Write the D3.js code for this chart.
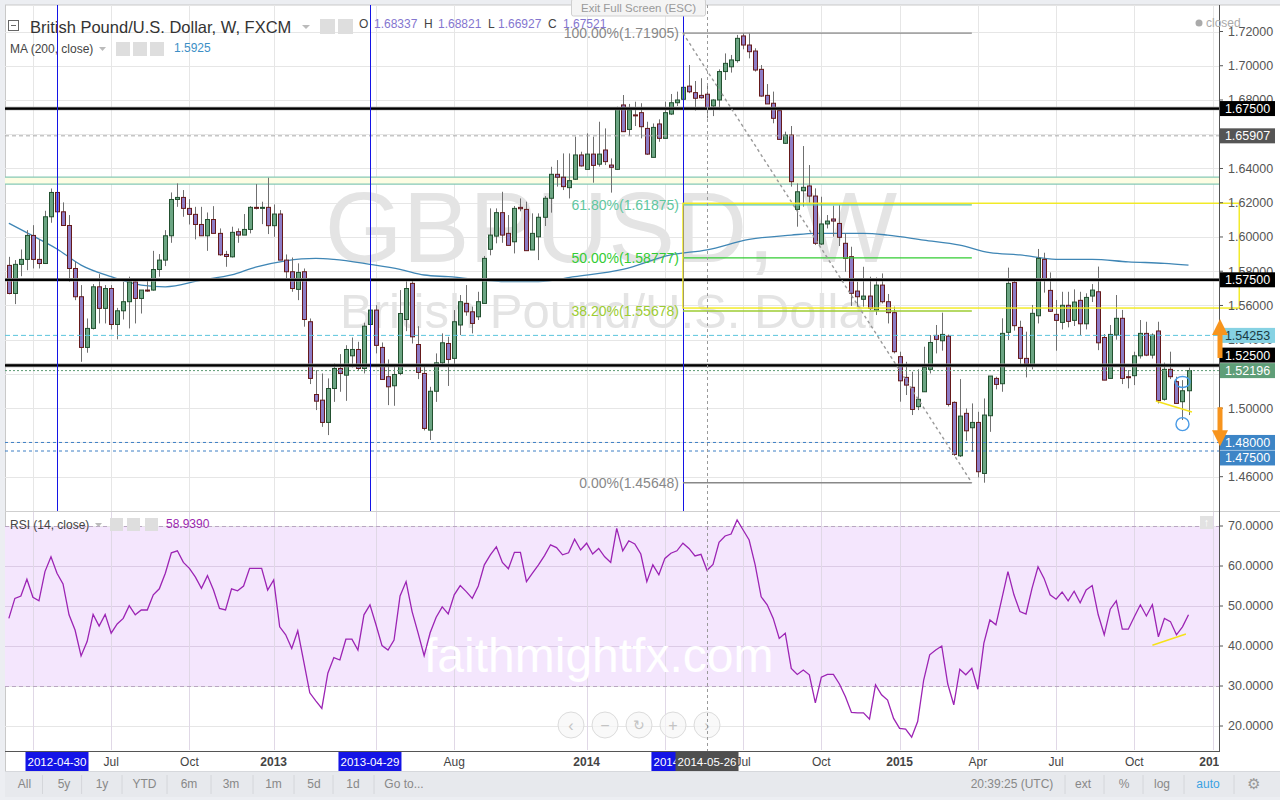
<!DOCTYPE html>
<html><head><meta charset="utf-8">
<script src="https://cdn.jsdelivr.net/npm/d3@7"></script>
<style>
html,body{margin:0;padding:0;background:#eceef2;overflow:hidden;}
svg{display:block;font-family:"Liberation Sans",Arial,sans-serif;}
</style></head><body>
<svg id="c" width="1280" height="800"></svg>
<script>
// ---------------- DATA ----------------
const firstWeek = "2012-03-05";
const lastWeek  = "2015-12-07";
const open = [1.5834,1.5670,1.5840,1.5869,1.6009,1.5869,1.5845,1.6118,1.6260,1.6147,
1.6067,1.5816,1.5651,1.5355,1.5466,1.5709,1.5583,1.5699,1.5489,1.5569,
1.5622,1.5738,1.5641,1.5690,1.5690,1.5810,1.5865,1.6007,1.6219,1.6231,
1.6167,1.6132,1.6073,1.6007,1.6102,1.6021,1.5898,1.5884,1.6031,1.6011,
1.6044,1.6173,1.6169,1.6173,1.6066,1.6134,1.5865,1.5797,1.5694,1.5797,
1.5505,1.5080,1.5047,1.4917,1.5115,1.5232,1.5193,1.5306,1.5343,1.5232,
1.5489,1.5573,1.5355,1.5184,1.5131,1.5203,1.5518,1.5729,1.5372,1.5203,
1.4872,1.5099,1.5265,1.5378,1.5291,1.5486,1.5612,1.5563,1.5534,1.5612,
1.5928,1.6005,1.6142,1.6021,1.5972,1.6173,1.6161,1.5924,1.6001,1.6115,
1.6226,1.6366,1.6349,1.6288,1.6337,1.6479,1.6395,1.6484,1.6425,1.6508,
1.6420,1.6395,1.6771,1.6628,1.6713,1.6726,1.6634,1.6465,1.6660,1.6576,
1.6718,1.6784,1.6804,1.6881,1.6843,1.6827,1.68337,1.6765,1.6800,1.6966,
1.6994,1.7030,1.7174,1.7121,1.7086,1.6979,1.6827,1.6781,1.6738,1.6547,
1.6595,1.6161,1.6270,1.6298,1.6239,1.5959,1.6076,1.6105,1.6079,1.5963,
1.5885,1.5684,1.5636,1.5655,1.5573,1.5719,1.5622,1.5558,1.5301,1.5180,
1.5122,1.5009,1.5096,1.5227,1.5425,1.5394,1.5421,1.5034,1.4722,1.4970,
1.4886,1.4917,1.4619,1.4956,1.5174,1.5143,1.5443,1.5735,1.5472,1.5291,
1.5256,1.5540,1.5869,1.5688,1.5548,1.5501,1.5601,1.5513,1.5630,1.5493,
1.5655,1.5680,1.5413,1.5174,1.5427,1.5525,1.5184,1.5190,1.5306,1.5437,
1.5310,1.5451,1.5052,1.5227,1.5155,1.5038,1.5102];
const high = [1.5884,1.5865,1.5927,1.6040,1.6069,1.5986,1.6153,1.6283,1.6293,1.6202,
1.6128,1.5855,1.5719,1.5524,1.5725,1.5783,1.5719,1.5719,1.5586,1.5738,
1.5768,1.5748,1.5690,1.5752,1.5919,1.5900,1.6040,1.6260,1.6313,1.6274,
1.6221,1.6176,1.6176,1.6143,1.6180,1.6050,1.5919,1.6060,1.6050,1.6134,
1.6180,1.6309,1.6206,1.6346,1.6190,1.6157,1.5898,1.5880,1.5846,1.5816,
1.5524,1.5222,1.5203,1.5174,1.5261,1.5316,1.5368,1.5413,1.5388,1.5499,
1.5602,1.5602,1.5384,1.5285,1.5252,1.5690,1.5742,1.5748,1.5479,1.5242,
1.5125,1.5320,1.5437,1.5417,1.5573,1.5661,1.5719,1.5593,1.5680,1.5889,
1.6167,1.6167,1.6264,1.6128,1.6181,1.6225,1.6206,1.6138,1.6138,1.6239,
1.6410,1.6449,1.6488,1.6488,1.6586,1.6498,1.6605,1.6586,1.6673,1.6634,
1.6459,1.6761,1.6829,1.6777,1.6790,1.6781,1.6673,1.6663,1.6687,1.6790,
1.6835,1.6849,1.6921,1.7004,1.6911,1.6927,1.68821,1.6804,1.6979,1.7072,
1.7063,1.7180,1.7190,1.7190,1.7102,1.7004,1.6893,1.6849,1.6745,1.6615,
1.6648,1.6313,1.6531,1.6420,1.6284,1.6235,1.6128,1.6183,1.6186,1.6021,
1.5943,1.5739,1.5826,1.5768,1.5764,1.5787,1.5667,1.5593,1.5330,1.5271,
1.5213,1.5227,1.5359,1.5427,1.5486,1.5558,1.5430,1.5040,1.5170,1.4999,
1.5028,1.4979,1.5057,1.5188,1.5184,1.5525,1.5821,1.5749,1.5511,1.5447,
1.5603,1.5930,1.5908,1.5793,1.5632,1.5680,1.5680,1.5694,1.5680,1.5671,
1.5725,1.5827,1.5433,1.5486,1.5661,1.5574,1.5223,1.5330,1.5515,1.5505,
1.5437,1.5505,1.5266,1.5330,1.5184,1.5164,1.5238];
const low = [1.5665,1.5608,1.5771,1.5806,1.5816,1.5816,1.5842,1.6083,1.6130,1.6067,
1.5738,1.5631,1.5271,1.5324,1.5460,1.5495,1.5495,1.5460,1.5402,1.5518,
1.5466,1.5495,1.5553,1.5680,1.5686,1.5768,1.5830,1.5966,1.6176,1.6118,
1.6073,1.5986,1.6007,1.5919,1.6021,1.5890,1.5826,1.5880,1.5966,1.6011,
1.6021,1.6161,1.6075,1.6017,1.6001,1.5865,1.5758,1.5680,1.5631,1.5476,
1.5141,1.4989,1.4891,1.4843,1.5037,1.5096,1.5043,1.5238,1.5222,1.5203,
1.5480,1.5320,1.5168,1.5018,1.5014,1.5193,1.5450,1.5378,1.5170,1.4870,
1.4814,1.5037,1.5242,1.5130,1.5242,1.5427,1.5540,1.5437,1.5515,1.5612,
1.5893,1.5963,1.5966,1.5951,1.5904,1.6150,1.5920,1.5924,1.5865,1.6064,
1.6142,1.6294,1.6274,1.6225,1.6333,1.6411,1.6395,1.6317,1.6411,1.6420,
1.6259,1.6391,1.6615,1.6589,1.6648,1.6576,1.6479,1.6465,1.6556,1.6576,
1.6712,1.6765,1.6757,1.6840,1.6738,1.6808,1.66927,1.6706,1.6741,1.6917,
1.6960,1.7018,1.7096,1.7043,1.6966,1.6819,1.6777,1.6664,1.6570,1.6543,
1.6294,1.6060,1.6177,1.6200,1.5953,1.5953,1.6050,1.6002,1.5947,1.5797,
1.5597,1.5593,1.5593,1.5573,1.5544,1.5612,1.5495,1.5320,1.5038,1.5077,
1.4960,1.4989,1.5096,1.5203,1.5320,1.5336,1.5010,1.4722,1.4715,1.4810,
1.4746,1.4596,1.4565,1.4862,1.5110,1.5096,1.5398,1.5453,1.5242,1.5180,
1.5227,1.5495,1.5675,1.5562,1.5336,1.5460,1.5472,1.5480,1.5427,1.5460,
1.5620,1.5339,1.5164,1.5174,1.5400,1.5141,1.5116,1.5135,1.5290,1.5304,
1.5290,1.5028,1.5044,1.5170,1.5028,1.4931,1.4960];
const close = [1.5670,1.5840,1.5869,1.6009,1.5869,1.5845,1.6118,1.6260,1.6147,1.6067,
1.5816,1.5651,1.5355,1.5466,1.5709,1.5583,1.5699,1.5489,1.5569,1.5622,
1.5738,1.5641,1.5690,1.5688,1.5810,1.5865,1.6007,1.6219,1.6231,1.6167,
1.6132,1.6073,1.6007,1.6102,1.6021,1.5896,1.5886,1.6027,1.6011,1.6044,
1.6173,1.6169,1.6173,1.6066,1.6134,1.5865,1.5797,1.5699,1.5793,1.5518,
1.5174,1.5041,1.4917,1.5115,1.5232,1.5203,1.5343,1.5343,1.5232,1.5479,
1.5573,1.5367,1.5168,1.5125,1.5197,1.5553,1.5699,1.5417,1.5209,1.4882,
1.5099,1.5265,1.5382,1.5285,1.5505,1.5622,1.5563,1.5495,1.5622,1.5875,
1.6011,1.6142,1.6011,1.5951,1.6167,1.6165,1.5920,1.6021,1.6115,1.6226,
1.6366,1.6349,1.6294,1.6329,1.6479,1.6415,1.6484,1.6418,1.6484,1.6440,
1.6407,1.6745,1.6615,1.6742,1.6710,1.6644,1.6484,1.6640,1.6576,1.6726,
1.6784,1.6800,1.6874,1.6848,1.6810,1.6813,1.67521,1.6800,1.6966,1.7014,
1.7034,1.7160,1.7121,1.7082,1.6975,1.6823,1.6777,1.6693,1.6570,1.6595,
1.6323,1.6264,1.6290,1.6239,1.5963,1.6076,1.6093,1.6093,1.5998,1.5875,
1.5671,1.5651,1.5655,1.5583,1.5719,1.5622,1.5558,1.5330,1.5160,1.5135,
1.4993,1.5052,1.5238,1.5384,1.5402,1.5431,1.5022,1.4730,1.4954,1.4868,
1.4917,1.4629,1.4960,1.5188,1.5139,1.5437,1.5729,1.5482,1.5291,1.5258,
1.5554,1.5875,1.5747,1.5566,1.5513,1.5601,1.5507,1.5620,1.5493,1.5647,
1.5690,1.5382,1.5164,1.5431,1.5525,1.5174,1.5178,1.5306,1.5437,1.5310,
1.5427,1.5044,1.5227,1.5184,1.5028,1.5102,1.52196];
const rsi = [46.9,51.9,52.5,56.7,52.2,51.3,58.6,62.3,58.2,55.5,
47.8,44.0,37.5,41.1,47.9,45.0,47.9,43.2,45.5,46.9,
50.1,47.8,49.0,49.0,52.8,54.3,58.2,63.3,63.8,60.9,
59.4,57.2,54.4,57.6,54.0,49.4,49.0,54.3,53.8,55.0,
59.4,59.4,59.4,54.0,56.5,44.8,42.8,39.4,43.8,36.1,
28.3,26.3,24.4,33.2,37.1,36.5,41.7,41.7,39.0,47.8,
50.3,45.3,40.1,39.0,41.5,52.5,56.1,48.6,43.2,37.6,
43.3,47.2,49.8,48.0,52.8,55.1,53.6,51.9,55.0,60.3,
62.8,64.8,60.9,59.3,63.4,63.4,56.1,58.2,60.3,62.6,
65.3,64.6,62.8,63.3,66.7,64.0,65.7,63.0,64.4,62.3,
60.9,69.4,63.8,66.3,65.5,63.0,56.1,60.3,57.8,61.9,
63.2,63.8,65.7,64.4,62.5,62.9,58.94,60.4,65.9,67.5,
68.0,71.5,69.0,66.5,60.3,52.3,50.3,46.9,41.9,43.2,
34.4,32.9,34.0,32.8,25.8,32.2,32.9,32.9,30.5,27.3,
23.4,23.3,23.3,21.7,30.3,27.8,26.5,21.9,19.4,19.2,
17.2,21.1,31.5,37.8,39.0,40.0,30.5,25.3,34.2,32.8,
34.4,29.2,40.7,46.5,45.3,51.9,58.6,52.8,48.6,48.0,
54.4,59.8,56.9,52.8,51.7,53.5,51.3,53.7,50.8,54.0,
55.1,47.8,42.8,49.2,51.3,44.2,44.2,47.3,50.3,47.5,
50.3,42.3,46.9,46.1,42.8,44.8,47.8];
const maDates = ["2012-03-05","2012-04-02","2012-04-30","2012-05-28","2012-07-02","2012-08-06","2012-09-03","2012-10-15","2012-11-19","2012-12-17","2013-01-21","2013-02-25","2013-03-18","2013-04-29","2013-06-03","2013-07-01","2013-07-29","2013-10-07","2013-11-11","2013-12-23","2014-02-17","2014-04-14","2014-05-26","2014-07-14","2014-09-01","2014-09-29","2014-11-24","2014-12-22","2015-02-02","2015-03-16","2015-04-20","2015-05-25","2015-07-06","2015-08-17","2015-09-28","2015-11-09","2015-12-07"];
const maValues = [1.6080,1.6006,1.5930,1.5836,1.5768,1.5719,1.5709,1.5748,1.5778,1.5824,1.5861,1.5875,1.5869,1.5840,1.5811,1.5778,1.5768,1.5739,1.5739,1.5768,1.5811,1.5895,1.5925,1.5986,1.6011,1.6021,1.6021,1.6011,1.5982,1.5953,1.5908,1.5895,1.5869,1.5869,1.5855,1.5846,1.5836];
const priceTicks = [1.46,1.48,1.50,1.52,1.54,1.56,1.58,1.60,1.62,1.64,1.66,1.68,1.70,1.72];
const rsiTicks = [20,30,40,50,60,70];
const levelPrices = [1.675,1.65907,1.575,1.54253,1.525,1.52196,1.48,1.475];
const levelLabels = ["1.67500","1.65907","1.57500","1.54253","1.52500","1.52196","1.48000","1.47500"];
const zoneBand = [1.6309,1.6350];
const fibPct = ["100.00%","61.80%","50.00%","38.20%","0.00%"];
const fibPrices = [1.71905,1.61875,1.58777,1.55678,1.45648];
const fibStart = "2014-04-28", fibEnd = "2015-03-30";
const boxDates = ["2014-04-28","2016-02-04"], boxPrices = [1.6197,1.5585];
const markDates = ["2012-04-30","2013-04-29","2014-04-28"];
const crossDate = "2014-05-26";
const gridDates = ["2012-04-02","2012-07-02","2012-10-01","2013-01-07","2013-05-06","2013-08-05","2014-01-06","2014-04-07","2014-07-07","2014-10-06","2015-01-05","2015-04-06","2015-07-06","2015-10-05","2016-01-04"];
const timeLabelDates = ["2012-07-02","2012-10-01","2013-01-07","2013-08-05","2014-01-06","2014-07-07","2014-10-06","2015-01-05","2015-04-06","2015-07-06","2015-10-05","2016-01-04"];
const timeLabels = ["Jul","Oct","2013","Aug","2014","Jul","Oct","2015","Apr","Jul","Oct","2016"];
const trendLineDates = ["2015-10-30","2015-12-11"], trendLinePrices = [1.5042,1.4978];
const rsiTrendDates = ["2015-10-26","2015-12-04"], rsiTrendValues = [40.2,43.0];
const circleMark = {date:"2015-11-30", price:1.4907};
const ellipseMark = {date:"2015-11-30", price:1.5153};
const upArrow = [1.5293,1.5521], downArrow = [1.5006,1.4778];
const legendOHLC = [["O","1.68337"],["H","1.68821"],["L","1.66927"],["C","1.67521"]];
const toolbarLeft = ["All","5y","1y","YTD","6m","3m","1m","5d","1d","Go to..."];
const toolbarRight = ["20:39:25 (UTC)","ext","%","log","auto"];

// ---------------- SETUP ----------------
const P = d => new Date(d + "T00:00:00Z");
const dates = d3.utcMonday.range(P(firstWeek), d3.utcDay.offset(P(lastWeek),1));
const bars = dates.map((d,i)=>({d, o:open[i], h:high[i], l:low[i], c:close[i], r:rsi[i]}));

const svg = d3.select("#c");
const X0 = 5, X1 = 1219, M0 = 5, M1 = 511, R0 = 512, R1 = 750;
const x = d3.scaleUtc().domain([P("2012-04-30"), P("2015-12-07")]).range([57, 1188.5]);
const y = d3.scaleLinear().domain([1.46,1.72]).range([476.7,31.5]);
const ry = d3.scaleLinear().domain([20,70]).range([726,526]);

const defs = svg.append("defs");
defs.append("clipPath").attr("id","clipM").append("rect").attr("x",X0).attr("y",M0).attr("width",X1-X0).attr("height",M1-M0);
defs.append("clipPath").attr("id","clipR").append("rect").attr("x",X0).attr("y",R0).attr("width",X1-X0).attr("height",R1-R0);
defs.append("clipPath").attr("id","clipT").append("rect").attr("x",X0).attr("y",751).attr("width",X1-X0).attr("height",21);

// page bg
svg.append("rect").attr("width",1280).attr("height",800).attr("fill","#eceef2");
svg.append("rect").attr("x",X0).attr("y",M0).attr("width",1280-X0).attr("height",771-M0).attr("fill","#fff");
svg.append("line").attr("x1",X0).attr("x2",1280).attr("y1",M0).attr("y2",M0).attr("stroke","#c9c9c9");
svg.append("line").attr("x1",X0+0.5).attr("x2",X0+0.5).attr("y1",M0).attr("y2",771).attr("stroke","#c9c9c9");

// ---------------- MAIN PANE ----------------
const gm = svg.append("g").attr("clip-path","url(#clipM)");
gm.selectAll(".hg").data(priceTicks).join("line").attr("x1",X0).attr("x2",X1)
  .attr("y1",d=>Math.round(y(d))+0.5).attr("y2",d=>Math.round(y(d))+0.5).attr("stroke","#e6e6e6");
gm.selectAll(".vg").data(gridDates).join("line").attr("y1",M0).attr("y2",M1)
  .attr("x1",d=>Math.round(x(P(d)))+0.5).attr("x2",d=>Math.round(x(P(d)))+0.5).attr("stroke","#e6e6e6");
// watermark
gm.append("text").attr("x",611).attr("y",262).attr("text-anchor","middle").attr("font-size",100)
  .attr("fill","#e4e4e4").text("GBPUSD, W");
gm.append("text").attr("x",611).attr("y",328).attr("text-anchor","middle").attr("font-size",49)
  .attr("fill","#e4e4e4").text("British Pound/U.S. Dollar");
// zone band
gm.append("rect").attr("x",X0).attr("width",X1-X0).attr("y",y(zoneBand[1])).attr("height",y(zoneBand[0])-y(zoneBand[1]))
  .attr("fill","#fdfde3");
zoneBand.forEach(p=>gm.append("line").attr("x1",X0).attr("x2",X1).attr("y1",y(p)).attr("y2",y(p)).attr("stroke","#86c9b6").attr("stroke-width",1.2));

// MA line
const maLine = d3.line().x((d,i)=>x(P(maDates[i]))).y(d=>y(d)).curve(d3.curveMonotoneX);
gm.append("path").attr("d",maLine(maValues)).attr("fill","none").attr("stroke","#3f86b5").attr("stroke-width",1.3);

// candles
const cw = 4;
const cg = gm.append("g");
cg.selectAll(".wk").data(bars).join("line")
  .attr("x1",d=>Math.round(x(d.d))+0.5).attr("x2",d=>Math.round(x(d.d))+0.5)
  .attr("y1",d=>y(d.h)).attr("y2",d=>y(d.l)).attr("stroke","#707070").attr("stroke-width",1);
cg.selectAll(".bd").data(bars).join("rect")
  .attr("x",d=>Math.round(x(d.d))-cw/2+0.5).attr("width",cw)
  .attr("y",d=>y(Math.max(d.o,d.c)))
  .attr("height",d=>Math.max(1,Math.abs(y(d.o)-y(d.c))))
  .attr("fill",d=>d.c>=d.o?"#6ba583":"#8d7cc6")
  .attr("stroke",d=>d.c>=d.o?"#22502f":"#65191a").attr("stroke-width",1);

// horizontal levels
const levelStyle = [
 {c:"#000",w:2.2,da:null},{c:"#aaa",w:1,da:"4,3"},{c:"#000",w:2.2,da:null},{c:"#5bc4dc",w:1,da:"5,3"},
 {c:"#000",w:2.2,da:null},{c:"#5d9b74",w:1,da:"2,2"},{c:"#3d7fc4",w:1,da:"3,3"},{c:"#3d7fc4",w:1,da:"3,3"}];
levelPrices.forEach((p,i)=>{
  const s=levelStyle[i];
  if(s.w>2) gm.append("line").attr("x1",X0).attr("x2",X1).attr("y1",y(p)).attr("y2",y(p)).attr("stroke","#999").attr("stroke-width",3.6);
  gm.append("line").attr("x1",X0).attr("x2",X1).attr("y1",y(p)).attr("y2",y(p))
    .attr("stroke",s.c).attr("stroke-width",s.w).attr("stroke-dasharray",s.da);
});

// vertical date markers
markDates.forEach(d=>gm.append("line").attr("x1",Math.round(x(P(d)))+0.5).attr("x2",Math.round(x(P(d)))+0.5)
  .attr("y1",M0).attr("y2",M1).attr("stroke","#1414e6").attr("stroke-width",1));

// fib
const fx0 = x(P(fibStart)), fx1 = x(P(fibEnd));
const fibColors = ["#888","#5fc7a0","#33cc33","#9ccc33","#888"];
fibPrices.forEach((p,i)=>{
  gm.append("line").attr("x1",fx0).attr("x2",fx1).attr("y1",y(p)).attr("y2",y(p)).attr("stroke",fibColors[i]).attr("stroke-width",1.3);
  gm.append("text").attr("x",fx0-4).attr("y",y(p)).attr("dy","0.35em").attr("text-anchor","end").attr("font-size",14)
    .attr("fill",fibColors[i]).text(fibPct[i]+"("+p.toFixed(5)+")");
});
gm.append("line").attr("x1",fx0).attr("y1",y(fibPrices[0])).attr("x2",fx1).attr("y2",y(fibPrices[4]))
  .attr("stroke","#999").attr("stroke-width",1.4).attr("stroke-dasharray","3,3");
// yellow box
svg.append("rect").attr("x",x(P(boxDates[0]))).attr("y",y(boxPrices[0])).attr("width",x(P(boxDates[1]))-x(P(boxDates[0])))
  .attr("height",y(boxPrices[1])-y(boxPrices[0])).attr("fill","none").attr("stroke","#f2ea1c").attr("stroke-width",1.4);
// trend line + marks
gm.append("line").attr("x1",x(P(trendLineDates[0]))).attr("y1",y(trendLinePrices[0])).attr("x2",x(P(trendLineDates[1]))).attr("y2",y(trendLinePrices[1]))
  .attr("stroke","#f5e21a").attr("stroke-width",1.5);
gm.append("circle").attr("cx",x(P(circleMark.date))).attr("cy",y(circleMark.price)).attr("r",6.5).attr("fill","none").attr("stroke","#4a9be6").attr("stroke-width",1.4);
gm.append("ellipse").attr("cx",x(P(ellipseMark.date))).attr("cy",y(ellipseMark.price)).attr("rx",7.5).attr("ry",5.5).attr("fill","none").attr("stroke","#4a9be6").attr("stroke-width",1.4);

svg.append("line").attr("x1",X0).attr("x2",1280).attr("y1",511.5).attr("y2",511.5).attr("stroke","#cfcfcf");

// ---------------- RSI PANE ----------------
const gr = svg.append("g").attr("clip-path","url(#clipR)");
gr.append("rect").attr("x",X0).attr("width",X1-X0).attr("y",ry(70)).attr("height",ry(30)-ry(70)).attr("fill","#f4e6fd");
gr.selectAll(".rg").data(rsiTicks).join("line").attr("x1",X0).attr("x2",X1)
  .attr("y1",d=>Math.round(ry(d))+0.5).attr("y2",d=>Math.round(ry(d))+0.5).attr("stroke",d=>d>30&&d<70?"#dccbe6":"#e6e6e6");
gr.selectAll(".rv").data(gridDates).join("line").attr("y1",R0).attr("y2",R1)
  .attr("x1",d=>Math.round(x(P(d)))+0.5).attr("x2",d=>Math.round(x(P(d)))+0.5).attr("stroke","#e0d8e6");
[70,30].forEach(v=>gr.append("line").attr("x1",X0).attr("x2",X1).attr("y1",Math.round(ry(v))+0.5).attr("y2",Math.round(ry(v))+0.5)
  .attr("stroke","#b9a6c2").attr("stroke-dasharray","4,3"));
gr.append("text").attr("x",424).attr("y",672).attr("font-size",48).attr("fill","#fff").text("faithmightfx.com");
const rl = d3.line().x(d=>x(d.d)).y(d=>ry(d.r));
gr.append("path").attr("d",rl(bars)).attr("fill","none").attr("stroke","#9c24b4").attr("stroke-width",1.3);
gr.append("line").attr("x1",x(P(rsiTrendDates[0]))).attr("y1",ry(rsiTrendValues[0])).attr("x2",x(P(rsiTrendDates[1]))).attr("y2",ry(rsiTrendValues[1]))
  .attr("stroke","#f5e21a").attr("stroke-width",1.5);
const navG = svg.append("g");
["‹","−","↻","+","›"].forEach((s,i)=>{
  const cx=571+i*34;
  navG.append("circle").attr("cx",cx).attr("cy",725).attr("r",13).attr("fill","#f7f7f7").attr("fill-opacity",0.7).attr("stroke","#dcdcdc");
  navG.append("text").attr("x",cx).attr("y",725).attr("dy","0.35em").attr("text-anchor","middle").attr("font-size",i==2?14:16).attr("fill","#c4c4c4").text(s);
});
svg.append("rect").attr("x",1200).attr("y",516).attr("width",13).attr("height",13).attr("fill","#e2e2e2");
svg.append("text").attr("x",1206.5).attr("y",526).attr("text-anchor","middle").attr("font-size",11).attr("fill","#fff").text("↑");

// crosshair
svg.append("line").attr("x1",Math.round(x(P(crossDate)))+0.5).attr("x2",Math.round(x(P(crossDate)))+0.5).attr("y1",M0).attr("y2",751)
  .attr("stroke","#9a9a9a").attr("stroke-dasharray","3,3");

// ---------------- PRICE AXIS ----------------
svg.append("line").attr("x1",X1+0.5).attr("x2",X1+0.5).attr("y1",M0).attr("y2",751).attr("stroke","#555");
const ax = svg.append("g");
ax.selectAll(".pt").data(priceTicks).join("text").attr("x",1228).attr("y",d=>y(d)).attr("dy","0.35em")
  .attr("font-size",12.5).attr("fill","#555").text(d=>d.toFixed(5));
ax.selectAll(".ptk").data(priceTicks).join("line").attr("x1",X1).attr("x2",X1+4).attr("y1",d=>y(d)).attr("y2",d=>y(d)).attr("stroke","#555");
ax.selectAll(".rt").data(rsiTicks).join("text").attr("x",1228).attr("y",d=>ry(d)).attr("dy","0.35em")
  .attr("font-size",12.5).attr("fill","#555").text(d=>d.toFixed(4));
ax.selectAll(".rtk").data(rsiTicks).join("line").attr("x1",X1).attr("x2",X1+4).attr("y1",d=>ry(d)).attr("y2",d=>ry(d)).attr("stroke","#555");
const boxBg = ["#000","#555","#000","#86d2e3","#000","#5f9e78","#3d85c6","#3d85c6"];
const boxFg = ["#fff","#fff","#fff","#1a3a44","#fff","#fff","#fff","#fff"];
// label placement with collision avoidance (last price label stays fixed)
const lastIdx = 5, bh = 15;
const lab = levelPrices.map((p,i)=>({i, p, yy:y(p)}));
lab.forEach(a=>{
  if(a.i===lastIdx) return;
  lab.forEach(b=>{
    if(b===a) return;
    const d = a.yy-b.yy;
    if(Math.abs(d)<bh+0.5){
      if(b.i===lastIdx) a.yy = b.yy + (d>=0?1:-1)*(bh+0.5);
      else if(a.p<b.p) a.yy = b.yy + bh + 0.5;
    }
  });
});
lab.forEach(a=>{
  ax.append("rect").attr("x",1220).attr("y",a.yy-bh/2).attr("width",55).attr("height",bh).attr("fill",boxBg[a.i]);
  ax.append("text").attr("x",1247.5).attr("y",a.yy).attr("dy","0.36em").attr("text-anchor","middle").attr("font-size",12.5)
    .attr("fill",boxFg[a.i]).text(levelLabels[a.i]);
});
function arrow(pBase,pTip){
  const yb=y(pBase), yt=y(pTip), dir = yt<yb?1:-1, xc=1220;
  const yh = yt + dir*16;
  svg.append("path").attr("d",`M${xc-2.5},${yb}L${xc+2.5},${yb}L${xc+2.5},${yh}L${xc+8},${yh}L${xc},${yt}L${xc-8},${yh}L${xc-2.5},${yh}Z`)
    .attr("fill","#f7941d");
}
arrow(upArrow[0],upArrow[1]); arrow(downArrow[0],downArrow[1]);

// ---------------- TIME AXIS ----------------
svg.append("line").attr("x1",X0).attr("x2",X1+1).attr("y1",751.5).attr("y2",751.5).attr("stroke","#555");
const tg = svg.append("g").attr("clip-path","url(#clipT)");
tg.selectAll(".tl").data(timeLabelDates).join("text").attr("x",d=>x(P(d))).attr("y",762).attr("dy","0.35em")
  .attr("text-anchor","middle").attr("font-size",12).attr("font-weight",(d,i)=>/^\d{4}$/.test(timeLabels[i])?"bold":"normal")
  .attr("fill","#444").text((d,i)=>timeLabels[i]);
function dateBox(d,bg,w){
  const cx=x(P(d));
  tg.append("rect").attr("x",cx-w/2).attr("y",752).attr("width",w).attr("height",19).attr("fill",bg);
  tg.append("text").attr("x",cx).attr("y",762).attr("dy","0.35em").attr("text-anchor","middle").attr("font-size",11.5).attr("fill","#fff").text(d);
}
markDates.forEach(d=>dateBox(d,"#1414e6",63));
dateBox(crossDate,"#4f4f4f",63);

// ---------------- TOOLBAR ----------------
svg.append("rect").attr("x",X0).attr("y",772).attr("width",1280-X0).attr("height",25).attr("fill","#e7e9ed");
svg.append("line").attr("x1",X0).attr("x2",1280).attr("y1",771.5).attr("y2",771.5).attr("stroke","#d6d8dc");
const tlx=[24.5,64,102,144.5,189,231,273.5,314,353,404];
toolbarLeft.forEach((t,i)=>{
  svg.append("text").attr("x",tlx[i]).attr("y",784).attr("dy","0.35em").attr("text-anchor","middle").attr("font-size",12).attr("fill","#888").text(t);
});
[42.5,81.6,122,167,211,253,294,333,374].forEach(s=>svg.append("line").attr("x1",s).attr("x2",s).attr("y1",775).attr("y2",794).attr("stroke","#d4d6da"));
const trx=[1012,1083,1124,1162,1208];
toolbarRight.forEach((t,i)=>{
  svg.append("text").attr("x",trx[i]).attr("y",784).attr("dy","0.35em").attr("text-anchor","middle").attr("font-size",12)
    .attr("fill",t==="auto"?"#3aa3e3":"#888").text(t);
});
[1065,1104,1143,1184,1234].forEach(s=>svg.append("line").attr("x1",s).attr("x2",s).attr("y1",775).attr("y2",794).attr("stroke","#d4d6da"));
svg.append("text").attr("x",1253).attr("y",784).attr("dy","0.35em").attr("text-anchor","middle").attr("font-size",15).attr("fill","#999").text("⚙");

// ---------------- LEGENDS ----------------
const lg = svg.append("g");
lg.append("rect").attr("x",8.5).attr("y",20.5).attr("width",10).attr("height",10).attr("fill","#fff").attr("stroke","#666");
lg.append("line").attr("x1",11).attr("x2",16).attr("y1",25.5).attr("y2",25.5).attr("stroke","#666");
lg.append("text").attr("x",30).attr("y",27).attr("dy","0.35em").attr("font-size",16.5).attr("fill","#333").text("British Pound/U.S. Dollar, W, FXCM");
lg.append("path").attr("d","M302,25 L310,25 L306,29 Z").attr("fill","#bbb");
[320,338].forEach(bx=>lg.append("rect").attr("x",bx).attr("y",19).attr("width",15).attr("height",15).attr("fill","#dedede"));
let ox=359;
legendOHLC.forEach(([k,v])=>{
  lg.append("text").attr("x",ox).attr("y",24).attr("dy","0.35em").attr("font-size",12).attr("fill","#444").text(k);
  ox += k==="C"?13:(k==="H"?12:(k==="L"?8:13));
  lg.append("text").attr("x",ox+2).attr("y",24).attr("dy","0.35em").attr("font-size",12).attr("fill","#8476cf").text(v);
  ox += 2+45+5;
});
lg.append("text").attr("x",10).attr("y",49).attr("dy","0.35em").attr("font-size",12).attr("fill","#444").text("MA (200, close)");
lg.append("path").attr("d","M99,47 L106,47 L102.5,51 Z").attr("fill","#bbb");
[116,133,150].forEach(bx=>lg.append("rect").attr("x",bx).attr("y",42).attr("width",14).attr("height",14).attr("fill","#dedede"));
lg.append("text").attr("x",174).attr("y",48).attr("dy","0.35em").attr("font-size",12).attr("fill","#3d8fc6").text("1.5925");

lg.append("text").attr("x",10).attr("y",525).attr("dy","0.35em").attr("font-size",12).attr("fill","#444").text("RSI (14, close)");
lg.append("path").attr("d","M95,523 L102,523 L98.5,527 Z").attr("fill","#bbb");
[110,127,145].forEach(bx=>lg.append("rect").attr("x",bx).attr("y",518).attr("width",13).attr("height",13).attr("fill","#dedede"));
lg.append("text").attr("x",166).attr("y",524).attr("dy","0.35em").attr("font-size",12).attr("fill","#9c27b0").text("58.9390");

lg.append("circle").attr("cx",1199).attr("cy",23).attr("r",3.5).attr("fill","#aaa");
lg.append("text").attr("x",1206).attr("y",23).attr("dy","0.35em").attr("font-size",12).attr("fill","#aaa").text("closed");
lg.append("rect").attr("x",571.5).attr("y",-1).attr("width",134).attr("height",17).attr("rx",2).attr("fill","#f4f4f4").attr("stroke","#d0d0d0");
lg.append("text").attr("x",638.5).attr("y",8).attr("dy","0.35em").attr("text-anchor","middle").attr("font-size",11.5).attr("fill","#9a9a9a").text("Exit Full Screen (ESC)");
</script>
</body></html>
